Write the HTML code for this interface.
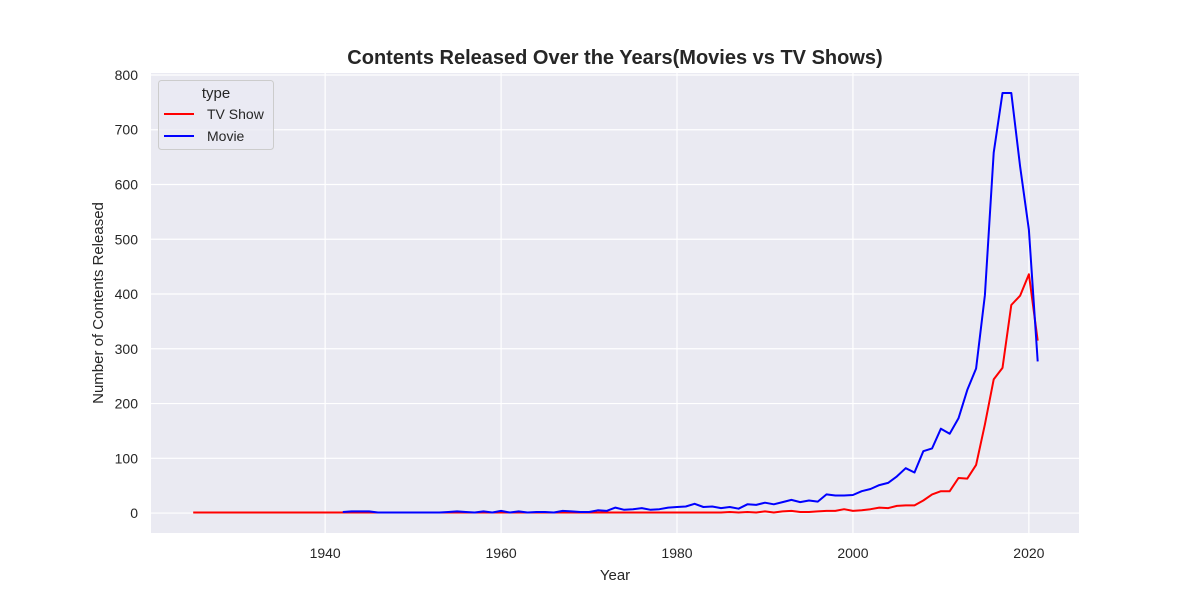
<!DOCTYPE html>
<html><head><meta charset="utf-8"><style>
body{margin:0;background:#fff;}
svg{display:block;font-family:"Liberation Sans","DejaVu Sans",sans-serif;}
</style></head><body>
<svg id="c" width="1200" height="600"></svg>
<script>
const movieYears=[1942,1943,1944,1945,1946,1947,1948,1949,1950,1951,1952,1953,1954,1955,1956,1957,1958,1959,1960,1961,1962,1963,1964,1965,1966,1967,1968,1969,1970,1971,1972,1973,1974,1975,1976,1977,1978,1979,1980,1981,1982,1983,1984,1985,1986,1987,1988,1989,1990,1991,1992,1993,1994,1995,1996,1997,1998,1999,2000,2001,2002,2003,2004,2005,2006,2007,2008,2009,2010,2011,2012,2013,2014,2015,2016,2017,2018,2019,2020,2021];
const movieCounts=[2,3,3,3,1,1,1,1,1,1,1,1,2,3,2,1,3,1,4,1,3,1,2,2,1,4,3,2,2,5,4,10,6,7,9,6,7,10,11,12,17,11,12,9,11,8,16,15,19,16,20,24,20,23,21,34,32,32,33,40,44,51,55,67,82,74,113,118,154,145,173,225,264,398,658,767,767,633,517,277];
const tvYears=[1925,1930,1935,1940,1945,1950,1955,1960,1965,1970,1975,1980,1985,1986,1987,1988,1989,1990,1991,1992,1993,1994,1995,1996,1997,1998,1999,2000,2001,2002,2003,2004,2005,2006,2007,2008,2009,2010,2011,2012,2013,2014,2015,2016,2017,2018,2019,2020,2021];
const tvCounts=[1,1,1,1,1,1,1,1,1,1,1,1,1,2,1,2,1,3,1,3,4,2,2,3,4,4,7,4,5,7,10,9,13,14,14,23,34,40,40,64,63,88,162,244,265,380,397,436,315];
const xTicks=[1940,1960,1980,2000,2020];
const yTicks=[0,100,200,300,400,500,600,700,800];

const L=151,R=1079,T=73,B=533,xmin=1920.2,xmax=2025.7,ymin=-36.4,ymax=803.6;
const X=v=>L+(v-xmin)/(xmax-xmin)*(R-L);
const Y=v=>B-(v-ymin)/(ymax-ymin)*(B-T);
const svg=document.getElementById('c');
const NS='http://www.w3.org/2000/svg';
function mk(tag,attrs,parent,text){const e=document.createElementNS(NS,tag);for(const k in attrs)e.setAttribute(k,attrs[k]);if(text!=null)e.textContent=text;(parent||svg).appendChild(e);return e;}

let bg=mk('rect',{x:L,y:T,width:R-L,height:B-T,fill:'#eaeaf2'});



xTicks.forEach(t=>{
  let g=mk('line',{x1:X(t),x2:X(t),y1:T,y2:B,stroke:'#fff','stroke-width':1.2});
  
  
  let l=mk('text',{x:X(t),y:558,'text-anchor':'middle','font-size':14,fill:'#262626'},null,t);
  
  
});
yTicks.forEach(t=>{
  let g=mk('line',{x1:L,x2:R,y1:Y(t),y2:Y(t),stroke:'#fff','stroke-width':1.2});
  
  
  let l=mk('text',{x:138,y:Y(t)+5,'text-anchor':'end','font-size':14,fill:'#262626'},null,t);
  
  
});

function line(xs,ys,color,name){
  const d=xs.map((x,i)=>(i?'L':'M')+X(x).toFixed(1)+','+Y(ys[i]).toFixed(1)).join('');
  const p=mk('path',{d:d,fill:'none',stroke:color,'stroke-width':2,'stroke-linejoin':'round'});
  
  
}
line(tvYears,tvCounts,'#ff0000','tv-show-line');
line(movieYears,movieCounts,'#0000ff','movie-line');

let ti=mk('text',{x:615,y:64,'text-anchor':'middle','font-size':20,'font-weight':'bold',fill:'#262626'},null,'Contents Released Over the Years(Movies vs TV Shows)');


let xt=mk('text',{x:615,y:580,'text-anchor':'middle','font-size':15,fill:'#262626'},null,'Year');


let yt=mk('text',{x:103,y:303,'text-anchor':'middle','font-size':15,fill:'#262626',transform:'rotate(-90 103 303)'},null,'Number of Contents Released');



let lg=mk('g',{});


mk('rect',{x:158.5,y:80.5,width:115,height:69,rx:3,fill:'#eaeaf2','fill-opacity':0.8,stroke:'#cccccc'},lg);
mk('text',{x:216,y:98,'text-anchor':'middle','font-size':15,fill:'#262626'},lg,'type');
let e1=mk('g',{},lg);


mk('line',{x1:164,x2:194,y1:114,y2:114,stroke:'#ff0000','stroke-width':2},e1);
mk('text',{x:207,y:119,'font-size':14,fill:'#262626'},e1,'TV Show');
let e2=mk('g',{},lg);


mk('line',{x1:164,x2:194,y1:136,y2:136,stroke:'#0000ff','stroke-width':2},e2);
mk('text',{x:207,y:141,'font-size':14,fill:'#262626'},e2,'Movie');
</script>
</body></html>
